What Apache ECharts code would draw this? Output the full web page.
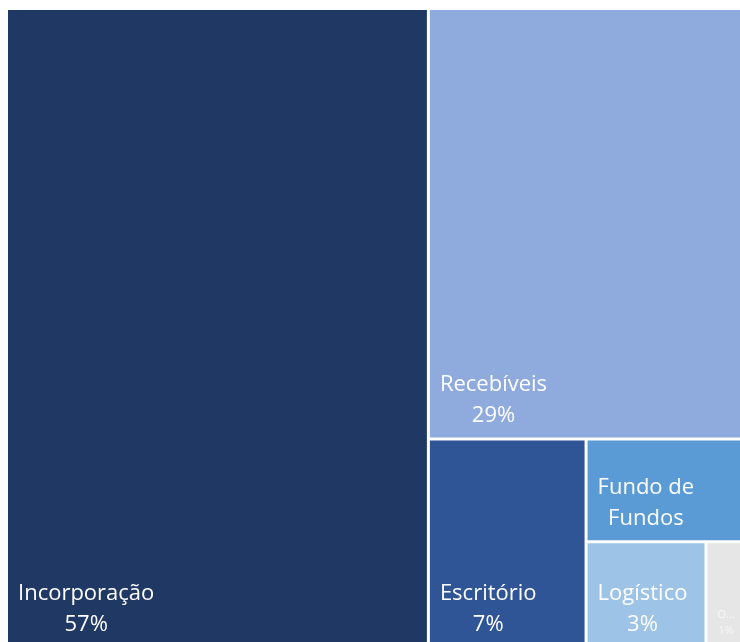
<!DOCTYPE html>
<html>
<head>
<meta charset="utf-8">
<script src="https://cdn.jsdelivr.net/npm/echarts@6/dist/echarts.min.js"></script>
<style>html,body{margin:0;padding:0;background:#fff;overflow:hidden}#c{width:740px;height:642px}</style>
</head>
<body>
<div id="c"></div>
<script>
const categories = ['Incorporação', 'Recebíveis', 'Escritório', 'Fundo de Fundos', 'Logístico', 'Outros'];
const values = [57.4, 28.7, 7.0, 3.4, 2.7, 0.8];
const pctLabels = ['57%', '29%', '7%', '', '3%', '1%'];
const nameLabels = ['Incorporação', 'Recebíveis', 'Escritório', 'Fundo de\nFundos', 'Logístico', 'O...'];
const colors = ['#1F3864', '#8FAADC', '#2F5597', '#5B9BD5', '#9DC3E6', '#E7E6E6'];

const FONT = '"Open Sans"';
const chart = echarts.init(document.getElementById('c'));
const ctx = document.createElement('canvas').getContext('2d');

function lines(i) {
  const ls = nameLabels[i].split('\n');
  if (pctLabels[i]) ls.push(pctLabels[i]);
  return ls;
}
function style(i) {
  const small = i === 5;
  return { fs: small ? 11 : 22, lh: small ? 16 : 31, color: small ? '#F7F7F7' : '#FFFFFF', bottom: small ? 7 : 6, left: small ? 9 : 9 };
}

function buildData(layouts) {
  return categories.map((c, i) => {
    const s = style(i);
    const ls = lines(i);
    const label = {
      color: s.color,
      overflow: 'none',
      formatter: () => ls.map(t => '{n|' + t + '}').join('\n'),
      rich: { n: { align: 'center', fontSize: s.fs, lineHeight: s.lh, fontFamily: FONT, color: s.color } }
    };
    if (layouts && layouts[c]) {
      const l = layouts[c];
      ctx.font = s.fs + 'px ' + FONT;
      const tw = Math.max.apply(null, ls.map(t => ctx.measureText(t).width)) + 2;
      const th = ls.length * s.lh;
      const top = Math.max(0, l.height - th - s.bottom);
      const right = Math.max(0, l.width - tw - s.left);
      label.padding = [top, right, s.bottom, s.left];
    }
    return { name: c, value: values[i], itemStyle: { color: colors[i] }, label: label };
  });
}

function option(layouts) {
  return {
    animation: false,
    series: [{
      type: 'treemap',
      left: 8, top: 10, right: 0, bottom: -4,
      squareRatio: 1,
      roam: false,
      nodeClick: false,
      breadcrumb: { show: false },
      itemStyle: { borderWidth: 0, gapWidth: 3, borderColor: '#fff' },
      label: { show: true, position: 'insideTopLeft', fontFamily: FONT },
      upperLabel: { show: false },
      emphasis: { disabled: true },
      levels: [{ itemStyle: { borderWidth: 0, gapWidth: 3, borderColor: '#fff' } }],
      data: buildData(layouts)
    }]
  };
}

chart.setOption(option(null));
const layouts = {};
try {
  const sm = chart.getModel().getSeriesByIndex(0);
  sm.getViewRoot().children.forEach(n => { const l = n.getLayout(); layouts[n.name] = { width: l.width, height: l.height }; });
} catch (e) { console.error(e); }
chart.setOption(option(layouts));
</script>
</body>
</html>
